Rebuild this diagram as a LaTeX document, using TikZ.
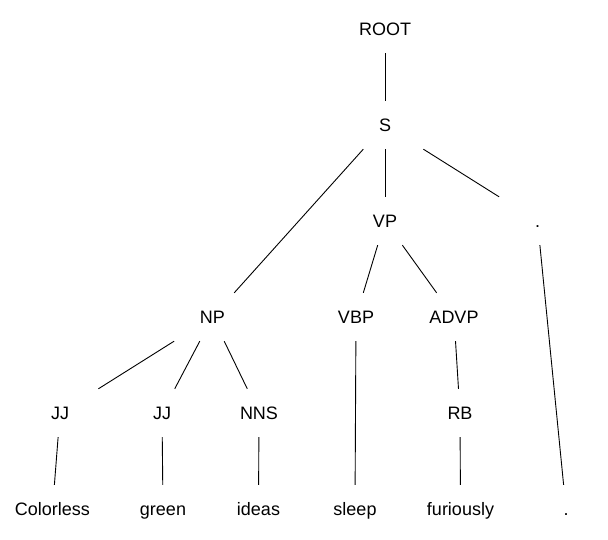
\documentclass[tikz,border=0pt]{standalone}
\usepackage{fontspec}
\setmainfont{Liberation Sans}

\begin{document}
\begin{tikzpicture}[x=1pt,y=-1pt,
    tag/.style={minimum width=+80pt,minimum height=+48pt,inner sep=0pt,
                text height=12.9pt,text depth=0pt,font=\fontsize{18}{22}\selectfont},
    branch/.style={line width=0.9pt}]
    \useasboundingbox (0,0) rectangle (608,539);
    % Definitions
    \coordinate (RT)  at (385,29);
    \coordinate (SE)  at (385,125);
    \coordinate (VP)  at (385,221);
    \coordinate (PT)  at (537.5,221);
    \coordinate (NP)  at (212.5,317);
    \coordinate (VB)  at (356,317);
    \coordinate (AP)  at (454,317);
    \coordinate (JA)  at (60,413);
    \coordinate (JB)  at (162,413);
    \coordinate (NS)  at (259,413);
    \coordinate (RB)  at (460,413);
    \coordinate (CO)  at (52.5,509);
    \coordinate (GR)  at (163,509);
    \coordinate (ID)  at (258.5,509);
    \coordinate (SL)  at (355,509);
    \coordinate (FU)  at (460.5,509);
    \coordinate (PW)  at (566,509);
    % Nodes
    \node(Root)  at (RT) [tag] {ROOT};
    \node(Sent)  at (SE) [tag] {S};
    \node(VePh)  at (VP) [tag] {VP};
    \node(Punc)  at (PT) [tag] {.};
    \node(NoPh)  at (NP) [tag] {NP};
    \node(VeBP)  at (VB) [tag] {VBP};
    \node(AdVP)  at (AP) [tag] {ADVP};
    \node(AdjA)  at (JA) [tag] {JJ};
    \node(AdjB)  at (JB) [tag] {JJ};
    \node(NoNS)  at (NS) [tag] {NNS};
    \node(AdRB)  at (RB) [tag] {RB};
    \node(Colo)  at (CO) [tag] {Colorless};
    \node(Gree)  at (GR) [tag] {green};
    \node(Idea)  at (ID) [tag] {ideas};
    \node(Slee)  at (SL) [tag] {sleep};
    \node(Furi)  at (FU) [tag] {furiously};
    \node(Stop)  at (PW) [tag] {.};
    % Lines
    \draw[branch] (Root) -- (Sent);
    \draw[branch] (Sent) -- (NoPh);
    \draw[branch] (Sent) -- (VePh);
    \draw[branch] (Sent) -- (Punc);
    \draw[branch] (VePh) -- (VeBP);
    \draw[branch] (VePh) -- (AdVP);
    \draw[branch] (Punc) -- (Stop);
    \draw[branch] (NoPh) -- (AdjA);
    \draw[branch] (NoPh) -- (AdjB);
    \draw[branch] (NoPh) -- (NoNS);
    \draw[branch] (AdjA) -- (Colo);
    \draw[branch] (AdjB) -- (Gree);
    \draw[branch] (NoNS) -- (Idea);
    \draw[branch] (VeBP) -- (Slee);
    \draw[branch] (AdVP) -- (AdRB);
    \draw[branch] (AdRB) -- (Furi);
\end{tikzpicture}
\end{document}
